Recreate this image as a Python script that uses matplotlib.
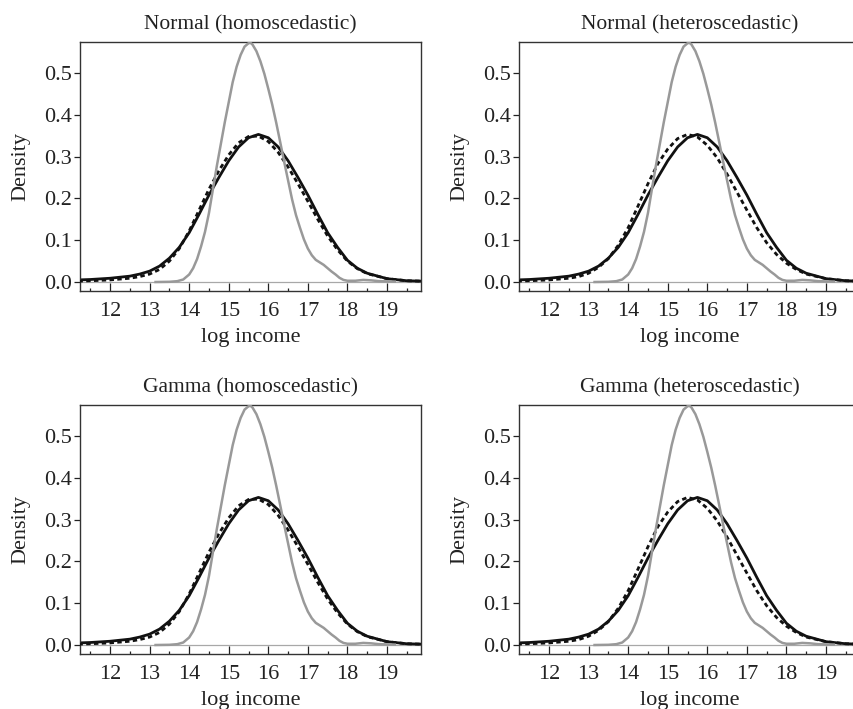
import numpy as np, matplotlib
matplotlib.use('Agg'); import matplotlib.pyplot as plt
from matplotlib.ticker import MultipleLocator, FormatStrFormatter
plt.rcParams.update({'font.family':'serif','font.serif':['Liberation Serif','DejaVu Serif'],'font.size':16,
                     'text.color':'#222222','axes.labelcolor':'#222222','xtick.color':'#222222','ytick.color':'#222222'})

titles = ['Normal (homoscedastic)', 'Normal (heteroscedastic)', 'Gamma (homoscedastic)', 'Gamma (heteroscedastic)']

# observed log income density (grey)
obs_x = [13.15, 13.5, 13.7, 13.85, 14.0, 14.1, 14.2, 14.3, 14.4, 14.5, 14.6, 14.7, 14.8, 14.9, 15.0, 15.1, 15.2, 15.3,
         15.4, 15.5, 15.55, 15.6, 15.7, 15.8, 15.9, 16.0, 16.1, 16.2, 16.3, 16.4, 16.5, 16.6, 16.7, 16.8, 16.9, 17.0,
         17.1, 17.2, 17.3, 17.4, 17.5, 17.6, 17.7, 17.8, 17.9, 18.0, 18.2, 18.4, 18.6, 18.8, 19.0, 19.2]
obs_y = [0.0, 0.0005, 0.002, 0.006, 0.018, 0.033, 0.055, 0.085, 0.12, 0.165, 0.222, 0.278, 0.33, 0.382, 0.43, 0.478,
         0.515, 0.543, 0.563, 0.571, 0.572, 0.568, 0.552, 0.528, 0.498, 0.462, 0.424, 0.381, 0.335, 0.288, 0.243, 0.198,
         0.16, 0.13, 0.102, 0.08, 0.064, 0.053, 0.047, 0.041, 0.033, 0.025, 0.018, 0.010, 0.005, 0.003, 0.003, 0.005,
         0.004, 0.002, 0.0015, 0.001]

# fitted densities (black)
fit_x = [11.2, 11.5, 12.0, 12.5, 12.75, 13.0, 13.25, 13.5, 13.75, 14.0, 14.25, 14.5, 14.75, 15.0, 15.25, 15.5, 15.75,
         16.0, 16.25, 16.5, 16.75, 17.0, 17.25, 17.5, 17.75, 18.0, 18.25, 18.5, 19.0, 19.5, 19.9]
solid_y = [0.005, 0.006, 0.009, 0.014, 0.019, 0.026, 0.038, 0.057, 0.083, 0.118, 0.162, 0.208, 0.25, 0.29, 0.323,
           0.345, 0.353, 0.345, 0.323, 0.29, 0.25, 0.208, 0.162, 0.118, 0.083, 0.052, 0.033, 0.021, 0.008, 0.003, 0.002]
dash_homo = [0.002, 0.003, 0.005, 0.009, 0.013, 0.019, 0.03, 0.05, 0.08, 0.122, 0.172, 0.222, 0.266, 0.304, 0.333,
             0.348, 0.349, 0.336, 0.31, 0.275, 0.235, 0.193, 0.15, 0.11, 0.077, 0.05, 0.032, 0.02, 0.008, 0.003, 0.002]
dash_het = [0.002, 0.003, 0.005, 0.009, 0.013, 0.021, 0.035, 0.056, 0.088, 0.13, 0.182, 0.235, 0.283, 0.318, 0.343,
            0.353, 0.347, 0.327, 0.297, 0.258, 0.215, 0.172, 0.13, 0.094, 0.066, 0.045, 0.03, 0.019, 0.008, 0.003, 0.002]
dashed = [dash_homo, dash_het, dash_homo, dash_het]

fig = plt.figure(figsize=(8.54, 7.09), dpi=100)
W, H = 854, 709
boxes = [(80, 42), (519, 42), (80, 405), (519, 405)]
for i, (l, t) in enumerate(boxes):
    ax = fig.add_axes([l/W, 1-(t+249)/H, 341/W, 249/H])
    ax.axhline(0, color='#a8a8a8', lw=0.9, zorder=1)
    ax.plot(fit_x, solid_y, color='#111111', lw=2.0, solid_capstyle='round', zorder=2)
    ax.plot(fit_x, dashed[i], color='#111111', lw=2.0, ls=(0, (1.6, 1.2)), zorder=3)
    ax.plot(obs_x, obs_y, color='#999999', lw=1.8, zorder=4)
    ax.set_xlim(11.24, 19.86); ax.set_ylim(-0.0215, 0.574)
    ax.xaxis.set_major_locator(MultipleLocator(1)); ax.xaxis.set_minor_locator(MultipleLocator(0.5))
    ax.yaxis.set_major_locator(MultipleLocator(0.1)); ax.yaxis.set_major_formatter(FormatStrFormatter('%.1f'))
    ax.tick_params(axis='x', which='major', direction='in', length=5.5, width=0.9, pad=8, labelsize=16)
    ax.tick_params(axis='x', which='minor', direction='in', length=2.5, width=0.9)
    ax.tick_params(axis='y', direction='out', length=4, width=0.9, pad=2, labelsize=16)
    for s in ax.spines.values():
        s.set_linewidth(1.0); s.set_color('#333333')
    ax.set_title(titles[i], fontsize=15.5, pad=9)
    ax.set_xlabel('log income', fontsize=16, labelpad=5)
    ax.set_ylabel('Density', fontsize=16, labelpad=10)

fig.savefig('out.png', dpi=100)
